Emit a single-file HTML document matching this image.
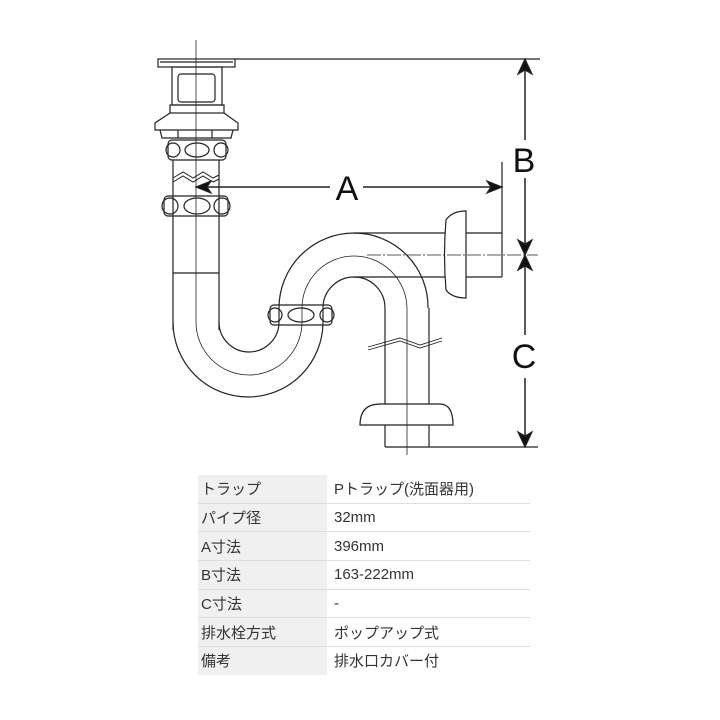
<!DOCTYPE html>
<html><head><meta charset="utf-8"><style>
body{margin:0;background:#fff;width:720px;height:720px;overflow:hidden;position:relative;font-family:"Liberation Sans","Noto Sans CJK JP",sans-serif}
svg{position:absolute;left:0;top:0}
table{position:absolute;left:198px;top:475px;border-collapse:collapse;width:332px;font-size:15px;color:#333}
td{height:27.7px;padding:0 0 0 3px;border-bottom:1px solid #ddd;vertical-align:middle}
td.l{background:#f0f0f0;width:126px}
td.v{padding-left:7px}
</style></head><body>
<svg width="720" height="470" viewBox="0 0 720 470" fill="none" stroke="#222" stroke-width="1.2">
<line x1="235" y1="59" x2="540" y2="59"/>
<rect x="158" y="59" width="77" height="8"/>
<line x1="160" y1="62" x2="233" y2="62"/>
<rect x="172" y="67" width="50" height="38"/>
<rect x="178" y="74" width="37" height="28" rx="3"/>
<rect x="170" y="105" width="54" height="8"/>
<path d="M170 113 L155 123 L155 130 L238 130 L238 123 L224 113"/>
<path d="M160 130 L162 138 L231 138 L233 130"/>
<line x1="178" y1="130" x2="178" y2="138"/><line x1="212" y1="130" x2="212" y2="138"/>
<rect x="168" y="140" width="58" height="20" rx="4"/>
<circle cx="173" cy="150" r="7"/><circle cx="221" cy="150" r="7"/>
<ellipse cx="197" cy="150" rx="12" ry="7"/>
<line x1="173" y1="160" x2="173" y2="330"/>
<line x1="219" y1="160" x2="219" y2="330"/>
<line x1="173" y1="273" x2="219" y2="273"/>
<path d="M173 178 L183 172 L193 178 L203 172 L213 178 L219 175" stroke-width="1"/>
<path d="M173 182 L183 176 L193 182 L203 176 L213 182 L219 179" stroke-width="1"/>
<rect x="164" y="196" width="64" height="20" rx="4"/>
<circle cx="170" cy="206" r="8"/><circle cx="222" cy="206" r="8"/>
<ellipse cx="197" cy="206" rx="13" ry="8"/>
<path d="M173 322 A75 75 0 0 0 323 322"/>
<path d="M219 322 A30 30 0 0 0 279 322"/>
<path d="M196 322 A52 52 0 0 0 302 322" stroke-width="0.8"/>
<line x1="279" y1="308" x2="279" y2="322"/><line x1="323" y1="308" x2="323" y2="322"/>
<path d="M279 308 A75 75 0 0 1 354 233"/>
<path d="M354 233 A74 74 0 0 1 428 308"/>
<path d="M323 308 A31 31 0 0 1 354 277 A31 31 0 0 1 385 308"/>
<path d="M302 322 L302 308 A52 52 0 0 1 354 256 A53 53 0 0 1 407 308" stroke-width="0.8"/>
<rect x="270" y="305" width="62" height="20" rx="4"/>
<circle cx="275" cy="315" r="7"/><circle cx="327" cy="315" r="7"/>
<ellipse cx="301" cy="315" rx="13" ry="7"/>
<line x1="354" y1="233" x2="445" y2="233"/>
<line x1="354" y1="277" x2="445" y2="277"/>
<line x1="466" y1="233" x2="502" y2="233"/>
<line x1="466" y1="277" x2="502" y2="277"/>
<line x1="502" y1="162" x2="502" y2="277"/>
<path d="M466 211 L466 298 Q452 298 446 290 Q443 255 446 220 Q452 211 466 211 Z"/>
<line x1="367" y1="255" x2="538" y2="255" stroke-width="0.8" stroke-dasharray="14 2 2 2"/>
<line x1="385" y1="308" x2="385" y2="404"/><line x1="429" y1="308" x2="429" y2="404"/>
<line x1="407" y1="308" x2="407" y2="455" stroke-width="0.8"/>
<path d="M368 347 L400 338 L420 345 L442 338" stroke-width="0.9"/>
<path d="M368 350 L400 341 L420 348 L442 341" stroke-width="0.9"/>
<path d="M360 425 Q360 404 380 404 L440 404 Q453 404 453 425 Z"/>
<line x1="385" y1="425" x2="385" y2="447"/><line x1="429" y1="425" x2="429" y2="447"/>
<line x1="385" y1="447" x2="538" y2="447"/>
<line x1="196" y1="40" x2="196" y2="322" stroke-width="0.8"/>
<line x1="205" y1="187" x2="330" y2="187" stroke-width="1.5"/>
<line x1="363" y1="187" x2="492" y2="187" stroke-width="1.5"/>
<path d="M196 187 L211 181 L207 187 L211 193 Z" fill="#111"/>
<path d="M502 187 L487 181 L491 187 L487 193 Z" fill="#111"/>
<line x1="525" y1="62" x2="525" y2="140" stroke-width="1.5"/>
<line x1="525" y1="178" x2="525" y2="252" stroke-width="1.5"/>
<line x1="525" y1="258" x2="525" y2="335" stroke-width="1.5"/>
<line x1="525" y1="378" x2="525" y2="445" stroke-width="1.5"/>
<path d="M525 59 L518 74 L525 70 L532 74 Z" fill="#111"/>
<path d="M525 255 L518 240 L525 244 L532 240 Z" fill="#111"/>
<path d="M525 255 L518 270 L525 266 L532 270 Z" fill="#111"/>
<path d="M525 447 L518 432 L525 436 L532 432 Z" fill="#111"/>
<g fill="#111" stroke="none" font-family="Liberation Sans, sans-serif" font-size="34" text-anchor="middle">
<text x="347" y="200">A</text>
<text x="524" y="172">B</text>
<text x="524" y="368">C</text>
</g>
</svg>
<table>
<tr><td class="l">トラップ</td><td class="v">Pトラップ(洗面器用)</td></tr>
<tr><td class="l">パイプ径</td><td class="v">32mm</td></tr>
<tr><td class="l">A寸法</td><td class="v">396mm</td></tr>
<tr><td class="l">B寸法</td><td class="v">163-222mm</td></tr>
<tr><td class="l">C寸法</td><td class="v">-</td></tr>
<tr><td class="l">排水栓方式</td><td class="v">ポップアップ式</td></tr>
<tr><td class="l" style="border-bottom:none">備考</td><td class="v" style="border-bottom:none">排水口カバー付</td></tr>
</table>
</body></html>
